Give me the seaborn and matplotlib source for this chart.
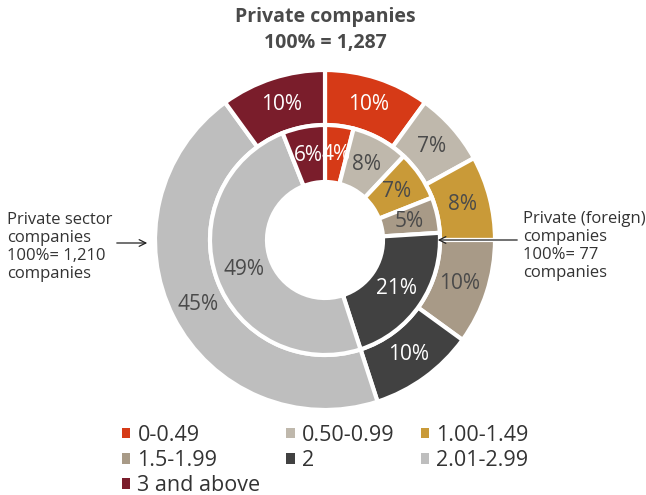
import matplotlib
matplotlib.use('Agg')
import matplotlib.pyplot as plt
from matplotlib.patches import Patch
import seaborn as sns

# Data
categories = ['0-0.49', '0.50-0.99', '1.00-1.49', '1.5-1.99', '2', '2.01-2.99', '3 and above']
outer_pct = [10, 7, 8, 10, 10, 45, 10]
inner_pct = [4, 8, 7, 5, 21, 49, 6]
colors = ['#D63A17', '#BFB8AC', '#C99A38', '#A89A87', '#414141', '#BEBEBE', '#7A1D2B']
label_colors = ['white', '#4a4a4a', '#4a4a4a', '#4a4a4a', 'white', '#4a4a4a', 'white']

sns.set_theme(style='white')
plt.rcParams['font.family'] = ['Open Sans', 'DejaVu Sans']
palette = sns.color_palette(colors)

W, H = 646, 495
fig = plt.figure(figsize=(W / 100, H / 100), dpi=100)
ax = fig.add_axes([0, 0, 1, 1])
ax.set_aspect('equal')

cx, cy = 325, H - 240
wedge_kw = dict(edgecolor='white', linewidth=3)

# outer ring
_, _, outer_txt = ax.pie(outer_pct, colors=palette, startangle=90, counterclock=False,
                         center=(cx, cy), radius=170, autopct='%.0f%%', pctdistance=0.835,
                         wedgeprops=dict(width=55, **wedge_kw), frame=True)
# inner ring
_, _, inner_txt = ax.pie(inner_pct, colors=palette, startangle=90, counterclock=False,
                         center=(cx, cy), radius=115, autopct='%.0f%%', pctdistance=0.75,
                         wedgeprops=dict(width=57, **wedge_kw), frame=True)
ax.set_xlim(0, W)
ax.set_ylim(0, H)
ax.axis('off')

for txts in (outer_txt, inner_txt):
    for t, c in zip(txts, label_colors):
        t.set_color(c)
        t.set_fontsize(15)

# title
ax.text(cx, H - 17, 'Private companies', ha='center', va='center',
        fontsize=14, fontweight='bold', color='#4a4a4a')
ax.text(cx, H - 43, '100% = 1,287', ha='center', va='center',
        fontsize=14, fontweight='bold', color='#4a4a4a')

# annotations
ax.text(7, H - 247, 'Private sector\ncompanies\n100%= 1,210\ncompanies', ha='left', va='center',
        fontsize=12, color='#333333', linespacing=1.15)
ax.annotate('', xy=(150, H - 243), xytext=(114, H - 243),
            arrowprops=dict(arrowstyle='->', color='#222222', lw=0.9))
ax.text(523, H - 246, 'Private (foreign)\ncompanies\n100%= 77\ncompanies', ha='left', va='center',
        fontsize=12, color='#333333', linespacing=1.15)
ax.annotate('', xy=(435, H - 240), xytext=(520, H - 240),
            arrowprops=dict(arrowstyle='->', color='#222222', lw=0.9))

# legend (row-wise order in 3 columns)
handles = [Patch(facecolor=palette[i], edgecolor='none') for i in range(len(categories))]
order = [0, 3, 6, 1, 4, 2, 5]
ax.legend([handles[i] for i in order], [categories[i] for i in order], ncol=3,
          loc='upper left', bbox_to_anchor=(111 / W, 1 - 414 / H), frameon=False,
          fontsize=15.5, handlelength=0.38, handleheight=0.38, handletextpad=0.35,
          columnspacing=1.2, labelspacing=0.2, labelcolor='#333333', borderpad=0)

fig.savefig('out.png', dpi=100)
